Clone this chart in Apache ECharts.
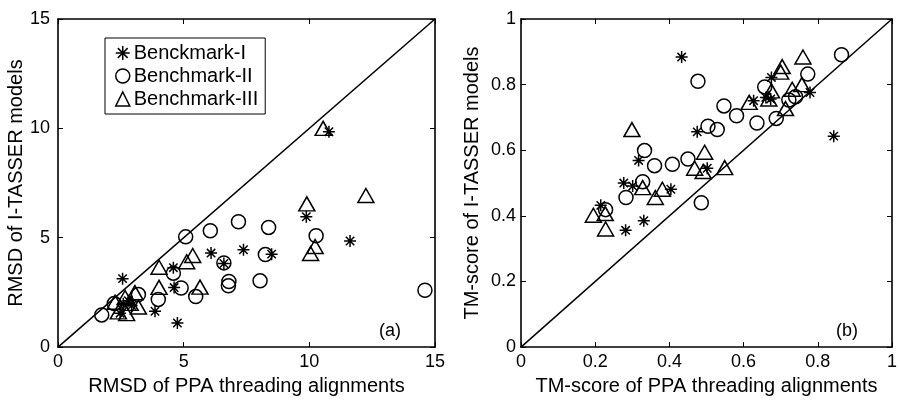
<!DOCTYPE html>
<html>
<head>
<meta charset="utf-8">
<script src="https://cdn.jsdelivr.net/npm/echarts@6/dist/echarts.min.js"></script>
<style>
    html, body { margin: 0; padding: 0; background: #fff; }
    #chart { width: 900px; height: 401px; }
</style>
</head>
<body>
<div id="chart"></div>
<script>
    // 数据: [x, y]
    var seriesNames = ['Benckmark-I', 'Benchmark-II', 'Benchmark-III'];

    // (a) RMSD
    var rmsdStar = [[2.57, 3.13], [10.78, 9.85], [9.88, 5.96], [11.62, 4.85], [7.38, 4.45], [6.09, 4.3],
        [8.5, 4.25], [6.6, 3.82], [4.59, 3.63], [4.62, 2.72], [3.86, 1.64], [4.75, 1.1],
        [2.6, 1.98], [2.8, 2.12], [2.47, 1.55], [2.93, 1.9]];
    var rmsdCircle = [[1.74, 1.47], [2.24, 1.99], [3.2, 2.4], [3.99, 2.18], [4.59, 3.38], [4.9, 2.7],
        [5.48, 2.31], [5.08, 5.04], [6.06, 5.32], [7.18, 5.73], [8.38, 5.47], [8.25, 4.23],
        [6.6, 3.85], [6.8, 3.0], [6.78, 2.8], [8.04, 3.03], [10.27, 5.09], [14.6, 2.6]];
    var rmsdTriangle = [[10.55, 10.0], [9.9, 6.55], [12.25, 6.93], [10.05, 4.28], [10.23, 4.6], [5.36, 4.19],
        [5.12, 3.9], [4.02, 3.65], [4.02, 2.73], [5.65, 2.74], [2.27, 2.05], [2.73, 1.53],
        [2.4, 1.61], [3.2, 1.83], [3.06, 2.49], [2.67, 2.27], [2.87, 2.0]];
    var rmsdDiag = [[0, 0], [15, 15]];
    var rmsdTicks = [0, 5, 10, 15];

    // (b) TM-score
    var tmStar = [[0.433, 0.884], [0.843, 0.643], [0.475, 0.656], [0.317, 0.569], [0.277, 0.5], [0.301, 0.491],
        [0.404, 0.481], [0.502, 0.545], [0.215, 0.432], [0.282, 0.356], [0.331, 0.385], [0.675, 0.822],
        [0.627, 0.751], [0.66, 0.761], [0.673, 0.756], [0.779, 0.776]];
    var tmCircle = [[0.864, 0.891], [0.477, 0.81], [0.773, 0.832], [0.657, 0.793], [0.547, 0.735], [0.581, 0.705],
        [0.636, 0.683], [0.688, 0.697], [0.722, 0.753], [0.74, 0.763], [0.504, 0.673], [0.529, 0.663],
        [0.45, 0.573], [0.408, 0.557], [0.486, 0.44], [0.333, 0.599], [0.36, 0.553], [0.328, 0.504],
        [0.283, 0.456], [0.228, 0.419]];
    var tmTriangle = [[0.76, 0.884], [0.704, 0.855], [0.7, 0.838], [0.731, 0.786], [0.757, 0.8], [0.675, 0.781],
        [0.615, 0.746], [0.668, 0.756], [0.713, 0.727], [0.495, 0.594], [0.468, 0.545], [0.491, 0.535],
        [0.549, 0.547], [0.299, 0.663], [0.328, 0.486], [0.362, 0.456], [0.381, 0.481], [0.195, 0.402],
        [0.227, 0.407], [0.228, 0.36]];
    var tmDiag = [[0, 0], [1, 1]];
    var tmTicks = [0, 0.2, 0.4, 0.6, 0.8, 1];

    var fontName = 'Liberation Sans';
    var starPath = 'path://M10,0L10,20M0,10L20,10M3,3L17,17M3,17L17,3';

    function makeAxes(gridIndex, ticks, position, showLabel, name, nameGap, labelMargin) {
        return {
            type: 'value',
            gridIndex: gridIndex,
            position: position,
            min: ticks[0],
            max: ticks[ticks.length - 1],
            interval: ticks[1] - ticks[0],
            name: name || '',
            nameLocation: 'middle',
            nameGap: nameGap || 0,
            nameTextStyle: {color: '#000', fontFamily: fontName, fontSize: 20},
            axisLine: {show: true, onZero: false, lineStyle: {color: '#000', width: 1.6}},
            axisTick: {show: true, inside: true, length: 5, lineStyle: {color: '#000', width: 1}},
            axisLabel: {show: showLabel, color: '#000', fontFamily: fontName, fontSize: 18, margin: labelMargin || 6},
            splitLine: {show: false}
        };
    }

    function scatterSeries(name, data, axisIdx) {
        var sym = 'circle', size = 14;
        if (name === seriesNames[0]) { sym = starPath; size = 12; }
        if (name === seriesNames[2]) { sym = 'triangle'; size = [16, 14]; }
        return {
            name: name,
            type: 'scatter',
            xAxisIndex: axisIdx,
            yAxisIndex: axisIdx,
            symbol: sym,
            symbolSize: size,
            data: data,
            itemStyle: {color: 'rgba(0,0,0,0)', borderColor: '#000', borderWidth: 1.5, opacity: 1},
            emphasis: {disabled: true},
            z: 3
        };
    }

    function diagSeries(data, axisIdx) {
        return {
            type: 'line',
            xAxisIndex: axisIdx,
            yAxisIndex: axisIdx,
            data: data,
            symbol: 'none',
            silent: true,
            lineStyle: {color: '#000', width: 1.5},
            z: 2
        };
    }

    var myChart = echarts.init(document.getElementById('chart'), null, {renderer: 'canvas'});
    var option = {
        backgroundColor: '#fff',
        animation: false,
        grid: [
            {left: 58, top: 19, width: 377, height: 339},
            {left: 521, top: 19, width: 375, height: 339}
        ],
        xAxis: [
            makeAxes(0, rmsdTicks, 'bottom', true, 'RMSD of PPA threading alignments', 22, 6),
            makeAxes(1, tmTicks, 'bottom', true, 'TM-score of PPA threading alignments', 22, 6),
            makeAxes(0, rmsdTicks, 'top', false),
            makeAxes(1, tmTicks, 'top', false)
        ],
        yAxis: [
            makeAxes(0, rmsdTicks, 'left', true, 'RMSD of I-TASSER models', 13, 8),
            makeAxes(1, tmTicks, 'left', true, 'TM-score of I-TASSER models', 39, 5),
            makeAxes(0, rmsdTicks, 'right', false),
            makeAxes(1, tmTicks, 'right', false)
        ],
        legend: {
            data: seriesNames.map(function (n) { return {name: n, itemStyle: {color: 'rgba(0,0,0,0)', borderColor: '#000', borderWidth: 1.5}}; }),
            orient: 'vertical',
            left: 105,
            top: 38,
            padding: [5, 7, 5, 10],
            itemGap: 3,
            itemWidth: 14,
            itemHeight: 14,
            backgroundColor: '#fff',
            borderColor: '#000',
            borderWidth: 1,
            borderRadius: 0,
            selectedMode: false,
            textStyle: {color: '#000', fontFamily: fontName, fontSize: 20, lineHeight: 18, padding: [0, 0, 0, -1]}
        },
        graphic: [
            {type: 'text', left: 379, top: 322, style: {text: '(a)', fill: '#000', font: '18px "Liberation Sans"'}},
            {type: 'text', left: 836, top: 322, style: {text: '(b)', fill: '#000', font: '18px "Liberation Sans"'}}
        ],
        series: [
            diagSeries(rmsdDiag, 0),
            scatterSeries(seriesNames[0], rmsdStar, 0),
            scatterSeries(seriesNames[1], rmsdCircle, 0),
            scatterSeries(seriesNames[2], rmsdTriangle, 0),
            diagSeries(tmDiag, 1),
            scatterSeries(seriesNames[0], tmStar, 1),
            scatterSeries(seriesNames[1], tmCircle, 1),
            scatterSeries(seriesNames[2], tmTriangle, 1)
        ]
    };
    myChart.setOption(option);
</script>
</body>
</html>
